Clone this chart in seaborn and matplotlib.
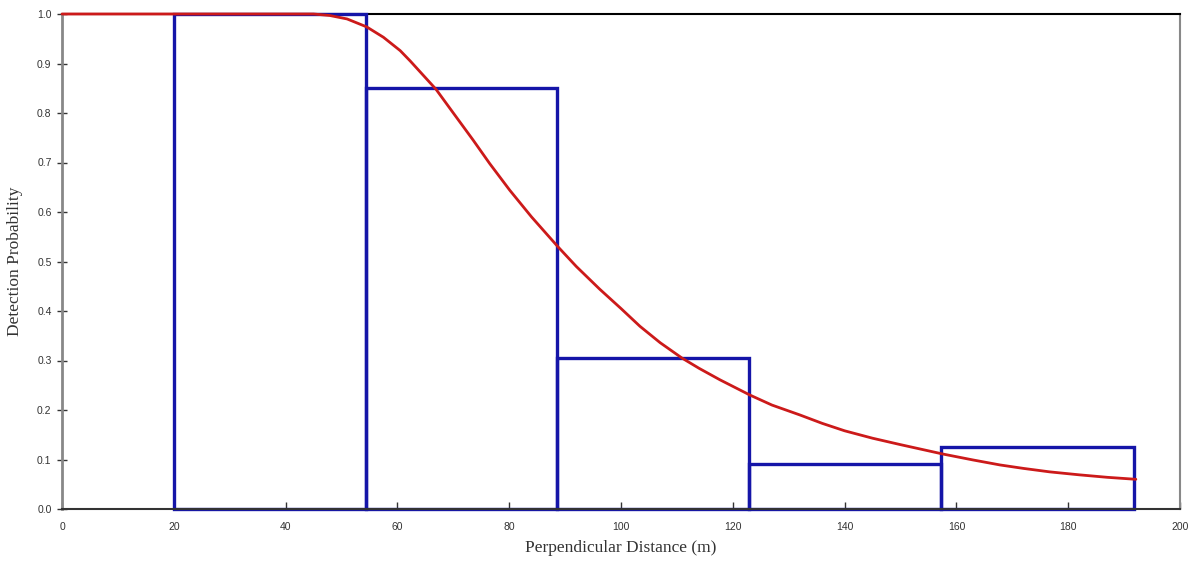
import matplotlib
matplotlib.use("Agg")
import matplotlib.pyplot as plt
import seaborn as sns
import pandas as pd

# Histogram of observed detections (scaled)
bin_edges = [20.0, 54.3, 88.6, 122.9, 157.3, 191.8]
bar_heights = [1.0, 0.85, 0.305, 0.091, 0.125]

# Fitted detection function
curve_x = [0, 40, 45, 47.9, 51, 54.5, 57.5, 60.5, 62.3, 66.9, 70, 73.5, 76.5, 80.1,
           84, 88.7, 92, 96.2, 100, 103.4, 107, 110.9, 114, 117.7, 123.1, 127, 132,
           136, 140, 145, 150, 157.6, 163, 167.8, 172, 176.7, 182, 187, 192.1]
curve_y = [1.0, 1.0, 1.0, 0.997, 0.99, 0.974, 0.953, 0.926, 0.905, 0.848, 0.80, 0.746,
           0.698, 0.644, 0.59, 0.530, 0.49, 0.444, 0.405, 0.369, 0.336, 0.305, 0.284,
           0.261, 0.23, 0.21, 0.19, 0.173, 0.158, 0.143, 0.13, 0.111, 0.099, 0.089,
           0.082, 0.075, 0.069, 0.064, 0.06]

x_ticks = [0, 20, 40, 60, 80, 100, 120, 140, 160, 180, 200]
y_ticks = [0.0, 0.1, 0.2, 0.3, 0.4, 0.5, 0.6, 0.7, 0.8, 0.9, 1.0]

sns.set_style("white")
plt.rcParams['font.family'] = ['Liberation Sans', 'DejaVu Sans']

fig = plt.figure(figsize=(12.04, 5.65), dpi=100)
ax = fig.add_axes([62/1204, 1 - 509/565, (1180-62)/1204, (509-14)/565])

centers = [(bin_edges[i] + bin_edges[i+1]) / 2 for i in range(len(bar_heights))]
df_bars = pd.DataFrame({"x": centers, "w": bar_heights})
sns.histplot(data=df_bars, x="x", weights="w", bins=bin_edges, fill=False,
             element="bars", color="#1515a8", linewidth=2.4, ax=ax, zorder=3)
for p in ax.patches:
    p.set_clip_on(False)
    p.set_edgecolor("#1515a8")
    p.set_linewidth(2.4)

df_curve = pd.DataFrame({"x": curve_x, "y": curve_y})
sns.lineplot(data=df_curve, x="x", y="y", color="#cc1a1a", linewidth=2.0, ax=ax,
             zorder=4, clip_on=False)
for ln in ax.lines:
    ln.set_solid_joinstyle('round')

ax.set_xlim(0, 200)
ax.set_ylim(0, 1.0)
ax.set_xticks(x_ticks)
ax.set_yticks(y_ticks)
ax.set_xticklabels([str(v) for v in x_ticks])
ax.set_yticklabels([f"{v:.1f}" for v in y_ticks])
ax.tick_params(axis='x', bottom=True, direction='in', length=5, width=1, color='#333333',
               labelsize=7.5, pad=9, labelcolor='#333333')
ax.tick_params(axis='y', left=True, direction='inout', length=7, width=1, color='#333333',
               labelsize=7.5, pad=4, labelcolor='#333333')

ax.set_xlabel("Perpendicular Distance (m)", fontfamily="Liberation Serif",
              fontsize=12.5, color='#333333', labelpad=6)
ax.set_ylabel("Detection Probability", fontfamily="Liberation Serif",
              fontsize=12.5, color='#333333', labelpad=10)

ax.spines['top'].set_color('black')
ax.spines['top'].set_linewidth(1.5)
ax.spines['left'].set_color('#888888')
ax.spines['left'].set_linewidth(2)
ax.spines['right'].set_color('#888888')
ax.spines['right'].set_linewidth(1.5)
ax.spines['bottom'].set_color('#333333')
ax.spines['bottom'].set_linewidth(1.5)
for name, s in ax.spines.items():
    s.set_zorder(1)
ax.spines['bottom'].set_zorder(5)

fig.savefig("out.png", dpi=100)
